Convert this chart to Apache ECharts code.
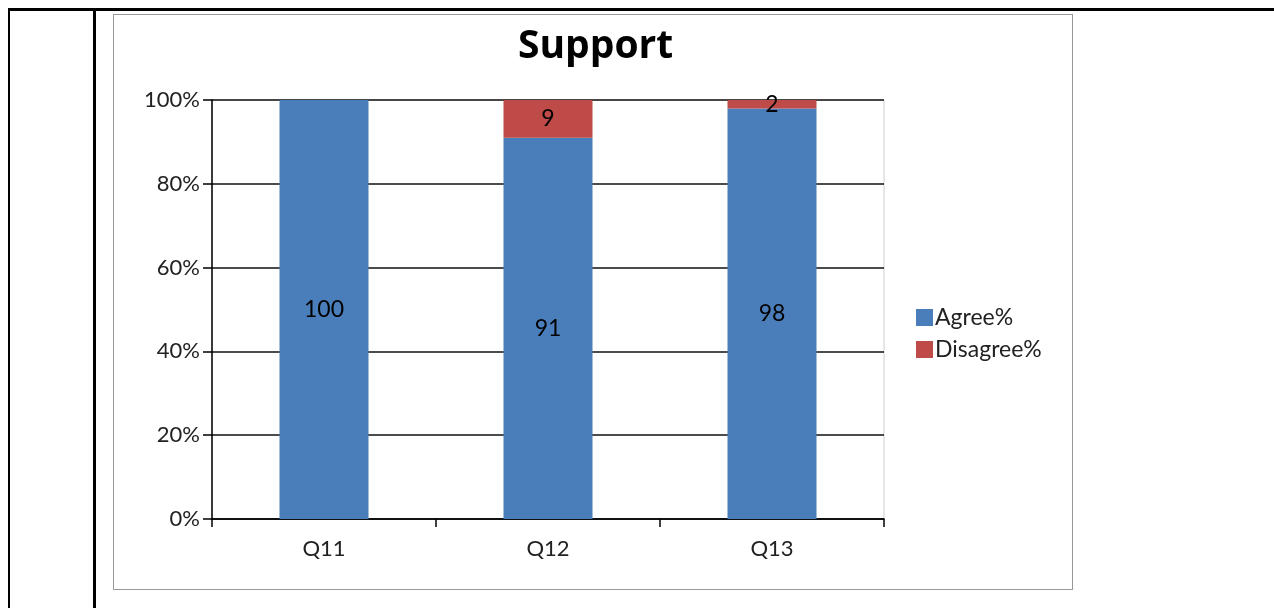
<!DOCTYPE html>
<html>
<head>
<meta charset="utf-8">
<script src="https://cdn.jsdelivr.net/npm/echarts@6/dist/echarts.min.js"></script>
<style>
  html, body { margin: 0; padding: 0; background: #fff; }
  #chart { position: absolute; left: 0; top: 0; width: 1274px; height: 608px; }
  .ln { position: absolute; background: #000; }
  #frame { position: absolute; left: 113px; top: 14px; width: 958px; height: 574px; border: 1px solid #999; }
</style>
</head>
<body>
<div class="ln" style="left:8px;top:8px;width:1266px;height:3px;"></div>
<div class="ln" style="left:8px;top:8px;width:2px;height:600px;"></div>
<div class="ln" style="left:93px;top:8px;width:3px;height:600px;"></div>
<div id="frame"></div>
<div id="chart"></div>
<script>
const categories = ['Q11', 'Q12', 'Q13'];
const agree = [100, 91, 98];
const disagree = [0, 9, 2];
const seriesNames = ['Agree%', 'Disagree%'];
const yTicks = [0, 20, 40, 60, 80, 100];

const font = 'Lato, "Open Sans", sans-serif';
const chart = echarts.init(document.getElementById('chart'), null, { renderer: 'canvas' });
chart.setOption({
  animation: false,
  title: {
    text: 'Support',
    left: 513, top: 22,
    textStyle: { fontFamily: '"Open Sans", sans-serif', fontWeight: 'bold', fontSize: 39, color: '#000' }
  },
  legend: {
    orient: 'vertical',
    left: 911, top: 301,
    itemWidth: 17, itemHeight: 17, itemGap: 9,
    icon: 'rect',
    textStyle: { fontFamily: font, fontSize: 23, color: '#222', padding: [0, 0, 0, -3] },
    data: seriesNames
  },
  grid: {
    left: 212, right: 390, top: 100, bottom: 89,
    show: true, borderColor: '#d0d0d0', borderWidth: 1, backgroundColor: 'transparent'
  },
  xAxis: {
    type: 'category',
    data: categories,
    axisLine: { lineStyle: { color: '#000', width: 1.5 } },
    axisTick: { show: true, length: 8, lineStyle: { color: '#000', width: 1.5 } },
    axisLabel: { fontFamily: font, fontSize: 22, color: '#222', margin: 19 }
  },
  yAxis: {
    type: 'value',
    min: 0, max: 100, interval: 20,
    axisLine: { show: true, lineStyle: { color: '#000', width: 1.5 } },
    axisTick: { show: true, length: 9, lineStyle: { color: '#000', width: 1.5 } },
    axisLabel: {
      fontFamily: font, fontSize: 22, color: '#222', margin: 12,
      formatter: v => yTicks.includes(v) ? v + '%' : ''
    },
    splitLine: { show: true, lineStyle: { color: '#111', width: 1.5 } }
  },
  series: [
    {
      name: seriesNames[0], type: 'bar', stack: 'total', barWidth: 89,
      data: agree,
      itemStyle: { color: '#4A7EBB' },
      label: { show: true, position: 'inside', fontFamily: font, fontSize: 23, color: '#000' }
    },
    {
      name: seriesNames[1], type: 'bar', stack: 'total', barWidth: 89,
      data: disagree.map(v => v === 0 ? null : v),
      itemStyle: { color: '#BE4B48' },
      label: { show: true, position: 'inside', fontFamily: font, fontSize: 23, color: '#000' }
    }
  ]
});
</script>
</body>
</html>
